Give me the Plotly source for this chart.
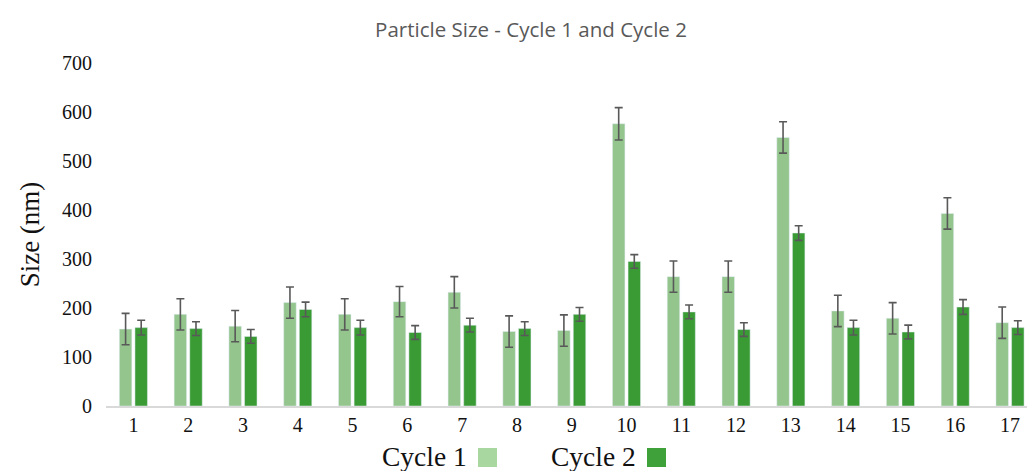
import plotly.graph_objects as go

categories = list(range(1, 18))
tick_labels = [str(c) for c in categories]
cycle1 = [157, 187, 163, 211, 187, 213, 232, 152, 154, 576, 264, 264, 548, 194, 179, 393, 170]
cycle1_err = [32, 32, 32, 32, 32, 31, 32, 32, 32, 33, 32, 32, 32, 32, 32, 32, 32]
cycle2 = [160, 158, 142, 197, 160, 150, 165, 158, 187, 295, 192, 156, 353, 160, 151, 202, 160]
cycle2_err = [15, 14, 14, 15, 15, 14, 14, 14, 14, 14, 14, 14, 15, 15, 14, 15, 14]

light = "#93c58c"
dark = "#3a9b35"
err_col = "#595959"

fig = go.Figure()
fig.add_trace(go.Bar(
    x=categories, y=cycle1, name="Cycle 1", marker_color=light,
    error_y=dict(type="data", array=cycle1_err, color=err_col, thickness=1.6, width=4),
    showlegend=False,
))
fig.add_trace(go.Bar(
    x=categories, y=cycle2, name="Cycle 2", marker_color=dark,
    error_y=dict(type="data", array=cycle2_err, color=err_col, thickness=1.6, width=4),
    showlegend=False,
))

serif = "Liberation Serif"
W, H = 1027, 471
l, r, t, b = 106, 0, 63, 65
pw, ph = W - l - r, H - t - b

fig.update_layout(
    width=W, height=H,
    margin=dict(l=l, r=r, t=t, b=b, autoexpand=False),
    paper_bgcolor="white", plot_bgcolor="white",
    barmode="group", bargap=0.43, bargroupgap=0.2,
    title=dict(text="Particle Size - Cycle 1 and Cycle 2", x=531 / W, xanchor="center",
               y=1 - 30 / H, yanchor="middle",
               font=dict(family="Open Sans", size=20.5, color="#595959")),
    xaxis=dict(range=[0.5, 17.31], tickmode="array", tickvals=categories, ticktext=tick_labels,
               showgrid=False, zeroline=False, showline=True, linecolor="#d9d9d9", linewidth=2,
               ticks="", automargin=False, tickfont=dict(family=serif, size=20, color="#111111")),
    yaxis=dict(range=[0, 700], dtick=100, showgrid=False, zeroline=False, showline=False,
               ticks="", automargin=False, ticklabelstandoff=13,
               tickfont=dict(family=serif, size=20, color="#111111"),
               title=dict(text="Size (nm)", font=dict(family=serif, size=27, color="#111111"), standoff=14)),
)


def px(xp):
    return (xp - l) / pw


def py(yp):
    return (H - b - yp) / ph


for label, xr, col in [("Cycle 1", 469, "#a8d8a0"), ("Cycle 2", 638, "#3fa13a")]:
    fig.add_annotation(text=label, x=px(xr), y=py(456), xref="paper", yref="paper",
                       xanchor="right", yanchor="middle", showarrow=False,
                       font=dict(family=serif, size=27.5, color="#111111"))
    fig.add_shape(type="rect", xref="paper", yref="paper",
                  x0=px(xr + 9), x1=px(xr + 28), y0=py(467), y1=py(448),
                  fillcolor=col, line=dict(width=0))

fig.write_html("out.html", config={"displayModeBar": False},
               post_script="document.body.style.margin='0px';")
